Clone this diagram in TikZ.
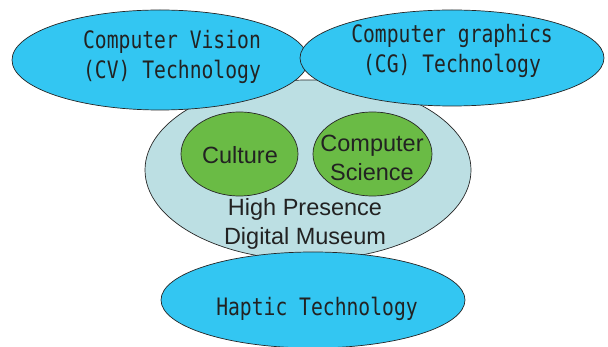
\documentclass[tikz,border=0pt]{standalone}
\usepackage{fontspec}
\setmainfont{Liberation Sans}
\newfontfamily\gothic[FakeStretch=0.82]{DejaVu Sans Mono}
\usetikzlibrary{shapes.geometric}
\definecolor{skyblue}{HTML}{33C6F2}
\definecolor{paleblue}{HTML}{BCDFE3}
\definecolor{leafgreen}{HTML}{6ABB45}
\definecolor{inktext}{HTML}{222222}
\begin{document}
\begin{tikzpicture}[x=1pt,y=-1pt,
  oval/.style={ellipse,draw=black!85,line width=0.7pt,inner sep=0pt},
  tech/.style={oval,fill=skyblue},
  topic/.style={oval,fill=leafgreen},
  techtext/.style={text=inktext,align=center,font=\gothic\fontsize{24}{30}\selectfont},
  sanstext/.style={text=inktext,align=center,font=\fontsize{23.5}{29.5}\selectfont}]
\useasboundingbox (0,0) rectangle (608,347);
\node[oval,fill=paleblue,minimum width=326,minimum height=180] (museum) at (308,170) {};
\node[topic,minimum width=117,minimum height=84] (culture) at (239.5,154) {};
\node[topic,minimum width=119,minimum height=84] (cs) at (372.5,154) {};
\node[sanstext] (culturet) at (240,155) {Culture};
\node[sanstext] (cst) at (372,158) {Computer\\Science};
\node[sanstext] (museumt) at (305,224) {High Presence\\Digital Museum};
\node[tech,minimum width=296,minimum height=100] (cv) at (160,60) {};
\node[tech,minimum width=304,minimum height=96] (cg) at (452,58) {};
\node[tech,minimum width=304,minimum height=96] (haptic) at (313,300) {};
\node[techtext] (cvt) at (172,57) {Computer Vision\\(CV) Technology};
\node[techtext] (cgt) at (452,51) {Computer graphics\\(CG) Technology};
\node[techtext] (haptict) at (317,309) {Haptic Technology};
\end{tikzpicture}
\end{document}
